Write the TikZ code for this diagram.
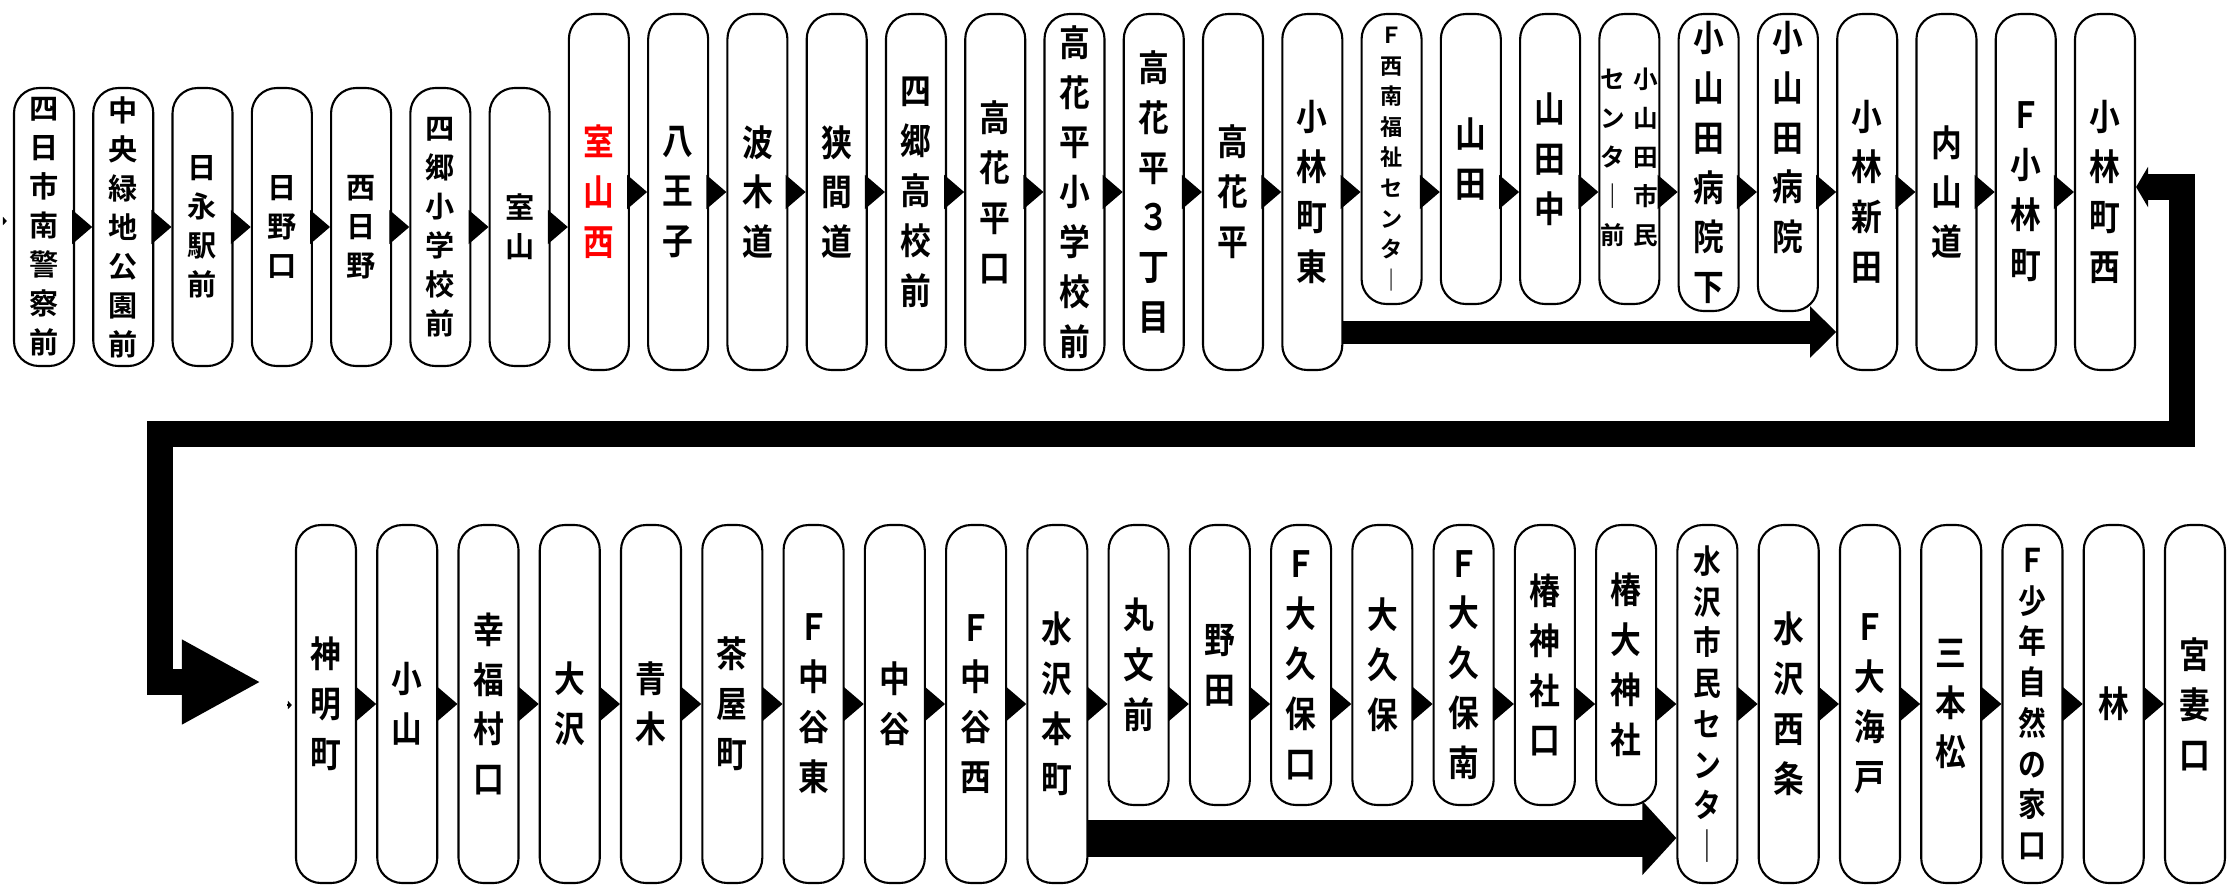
\documentclass[tikz,border=0pt]{standalone}
\usepackage{fontspec}
\setmainfont{Noto Sans CJK JP}[BoldFont={Noto Sans CJK JP Bold}]
\newfontfamily\narrowjp{Noto Sans CJK JP}[BoldFont={Noto Sans CJK JP Bold}, FakeStretch=0.85]
\usetikzlibrary{arrows.meta}
\tikzstyle{stop} = [rectangle, rounded corners=2.5mm, draw=black, fill=white, line width=0.6pt, minimum width=0.6cm, inner sep=0pt, align=center, font=\narrowjp\bfseries\fontsize{10.3}{14.2}\selectfont]
\tikzstyle{lowstop} = [stop, minimum height=2.78cm, font=\bfseries\fontsize{8.3}{11.1}\selectfont]
\tikzstyle{tallstop} = [stop, minimum height=3.56cm]
\tikzstyle{midstop} = [stop, minimum height=2.90cm]
\tikzstyle{midstopb} = [stop, minimum height=2.97cm]
\tikzstyle{longstop} = [stop, minimum height=3.58cm]
\tikzstyle{shortstop} = [stop, minimum height=2.80cm]
\tikzstyle{smalltext} = [font=\bfseries\fontsize{6.3}{8.7}\selectfont]
\tikzstyle{packedtext} = [font=\narrowjp\bfseries\fontsize{9.3}{11.6}\selectfont]
\tikzstyle{arrow} = [-{Triangle[length=2mm,width=3.4mm]}]
\tikzstyle{stub} = [-{Triangle[length=0.4mm,width=0.8mm]}]
\tikzstyle{bypass} = [line width=2.3mm, -{Triangle[length=2.6mm,width=5mm]}]
\tikzstyle{bypasswide} = [line width=3.7mm, -{Triangle[length=3.4mm,width=7.2mm]}]
\tikzstyle{wraparound} = [line width=2.6mm, line join=miter, {Triangle[length=1.2mm,width=4mm]}-{Triangle[length=7.9mm,width=7.9mm]}]

\begin{document}
\begin{tikzpicture}[node distance=0.7927cm]

\useasboundingbox (0,0) rectangle (22.33,-8.85);

% upper row
\node (t1) [lowstop] at (0.44,-2.27) {四\\日\\市\\南\\警\\察\\前};
\node (t2) [lowstop, right of=t1] {中\\央\\緑\\地\\公\\園\\前};
\node (t3) [lowstop, right of=t2] {日\\永\\駅\\前};
\node (t4) [lowstop, right of=t3] {日\\野\\口};
\node (t5) [lowstop, right of=t4] {西\\日\\野};
\node (t6) [lowstop, right of=t5] {四\\郷\\小\\学\\校\\前};
\node (t7) [lowstop, right of=t6] {室\\山};
\node (t8) [tallstop, right of=t7, yshift=0.35cm, text=red] {室\\山\\西};
\node (t9) [tallstop, right of=t8] {八\\王\\子};
\node (t10) [tallstop, right of=t9] {波\\木\\道};
\node (t11) [tallstop, right of=t10] {狭\\間\\道};
\node (t12) [tallstop, right of=t11] {四\\郷\\高\\校\\前};
\node (t13) [tallstop, right of=t12] {高\\花\\平\\口};
\node (t14) [tallstop, right of=t13] {高\\花\\平\\小\\学\\校\\前};
\node (t15) [tallstop, right of=t14] {高\\花\\平\\３\\丁\\目};
\node (t16) [tallstop, right of=t15] {高\\花\\平};
\node (t17) [tallstop, right of=t16] {小\\林\\町\\東};
\node (t18) [midstop, smalltext, right of=t17, yshift=0.33cm] {Ｆ\\西\\南\\福\\祉\\セ\\ン\\タ\\｜};
\node (t19) [midstop, right of=t18] {山\\田};
\node (t20) [midstop, right of=t19] {山\\田\\中};
\node (t21) [midstop, right of=t20, font=\bfseries\fontsize{7}{11.1}\selectfont] {\begin{tabular}{@{}c@{\hspace{0.8mm}}c@{}}セ & 小\\ ン & 山\\ タ & 田\\ ｜ & 市\\ 前 & 民\end{tabular}};
\node (t22) [midstopb, right of=t21, yshift=-0.035cm] {小\\山\\田\\病\\院\\下};
\node (t23) [midstopb, right of=t22] {小\\山\\田\\病\\院\\\phantom{院}};
\node (t24) [tallstop, right of=t23, yshift=-0.295cm] {小\\林\\新\\田};
\node (t25) [tallstop, right of=t24] {内\\山\\道};
\node (t26) [tallstop, right of=t25] {Ｆ\\小\\林\\町};
\node (t27) [tallstop, right of=t26] {小\\林\\町\\西};

% lower row
\begin{scope}[node distance=0.8126cm]
\node (b1) [longstop] at (3.26,-7.04) {神\\明\\町};
\node (b2) [longstop, right of=b1] {小\\山};
\node (b3) [longstop, right of=b2] {幸\\福\\村\\口};
\node (b4) [longstop, right of=b3] {大\\沢};
\node (b5) [longstop, right of=b4] {青\\木};
\node (b6) [longstop, right of=b5] {茶\\屋\\町};
\node (b7) [longstop, right of=b6] {Ｆ\\中\\谷\\東};
\node (b8) [longstop, right of=b7] {中\\谷};
\node (b9) [longstop, right of=b8] {Ｆ\\中\\谷\\西};
\node (b10) [longstop, right of=b9] {水\\沢\\本\\町};
\node (b11) [shortstop, right of=b10, yshift=0.39cm] {丸\\文\\前};
\node (b12) [shortstop, right of=b11] {野\\田};
\node (b13) [shortstop, right of=b12] {Ｆ\\大\\久\\保\\口};
\node (b14) [shortstop, right of=b13] {大\\久\\保};
\node (b15) [shortstop, right of=b14] {Ｆ\\大\\久\\保\\南};
\node (b16) [shortstop, right of=b15] {椿\\神\\社\\口};
\node (b17) [shortstop, right of=b16] {椿\\大\\神\\社};
\node (b18) [longstop, packedtext, right of=b17, yshift=-0.39cm] {水\\沢\\市\\民\\セ\\ン\\タ\\｜};
\node (b19) [longstop, right of=b18] {水\\沢\\西\\条};
\node (b20) [longstop, right of=b19] {Ｆ\\大\\海\\戸};
\node (b21) [longstop, right of=b20] {三\\本\\松};
\node (b22) [longstop, packedtext, right of=b21] {Ｆ\\少\\年\\自\\然\\の\\家\\口};
\node (b23) [longstop, right of=b22] {林};
\node (b24) [longstop, right of=b23] {宮\\妻\\口};
\end{scope}

\coordinate (in1) at (0.04,-2.21);
\coordinate (in2) at (2.87,-7.05);
\coordinate (turnR) at (21.82,-4.34);
\coordinate (turnL) at (1.60,-4.34);

\draw [stub, shorten >=0.06cm] (in1) -- (in1 -| t1.west);
\draw [arrow] (t1.east) -- (t2.west);
\draw [arrow] (t2.east) -- (t3.west);
\draw [arrow] (t3.east) -- (t4.west);
\draw [arrow] (t4.east) -- (t5.west);
\draw [arrow] (t5.east) -- (t6.west);
\draw [arrow] (t6.east) -- (t7.west);
\draw [arrow] (t7.east) -- (t7.east -| t8.west);
\draw [arrow] (t8.east) -- (t9.west);
\draw [arrow] (t9.east) -- (t10.west);
\draw [arrow] (t10.east) -- (t11.west);
\draw [arrow] (t11.east) -- (t12.west);
\draw [arrow] (t12.east) -- (t13.west);
\draw [arrow] (t13.east) -- (t14.west);
\draw [arrow] (t14.east) -- (t15.west);
\draw [arrow] (t15.east) -- (t16.west);
\draw [arrow] (t16.east) -- (t17.west);
\draw [arrow] (t17.east) -- (t17.east -| t18.west);
\draw [arrow] (t18.east |- t17.east) -- (t19.west |- t17.east);
\draw [arrow] (t19.east |- t17.east) -- (t20.west |- t17.east);
\draw [arrow] (t20.east |- t17.east) -- (t21.west |- t17.east);
\draw [arrow] (t21.east |- t17.east) -- (t22.west |- t17.east);
\draw [arrow] (t22.east |- t17.east) -- (t23.west |- t17.east);
\draw [arrow] (t23.east |- t24.west) -- (t24.west);
\draw [arrow] (t24.east) -- (t25.west);
\draw [arrow] (t25.east) -- (t26.west);
\draw [arrow] (t26.east) -- (t27.west);

\draw [stub, shorten >=0.03cm] (in2) -- (in2 -| b1.west);
\draw [arrow] (b1.east) -- (b2.west);
\draw [arrow] (b2.east) -- (b3.west);
\draw [arrow] (b3.east) -- (b4.west);
\draw [arrow] (b4.east) -- (b5.west);
\draw [arrow] (b5.east) -- (b6.west);
\draw [arrow] (b6.east) -- (b7.west);
\draw [arrow] (b7.east) -- (b8.west);
\draw [arrow] (b8.east) -- (b9.west);
\draw [arrow] (b9.east) -- (b10.west);
\draw [arrow] (b10.east) -- (b10.east -| b11.west);
\draw [arrow] (b11.east |- b10.east) -- (b12.west |- b10.east);
\draw [arrow] (b12.east |- b10.east) -- (b13.west |- b10.east);
\draw [arrow] (b13.east |- b10.east) -- (b14.west |- b10.east);
\draw [arrow] (b14.east |- b10.east) -- (b15.west |- b10.east);
\draw [arrow] (b15.east |- b10.east) -- (b16.west |- b10.east);
\draw [arrow] (b16.east |- b10.east) -- (b17.west |- b10.east);
\draw [arrow] (b17.east |- b18.west) -- (b18.west);
\draw [arrow] (b18.east) -- (b19.west);
\draw [arrow] (b19.east) -- (b20.west);
\draw [arrow] (b20.east) -- (b21.west);
\draw [arrow] (b21.east) -- (b22.west);
\draw [arrow] (b22.east) -- (b23.west);
\draw [arrow] (b23.east) -- (b24.west);

% express links
\draw [bypass] ([yshift=-1.4cm]t17.east) -- ([yshift=-1.4cm]t24.west);
\draw [bypasswide] ([yshift=-1.34cm]b10.east) -- ([yshift=-1.34cm]b18.west);
\draw [wraparound, shorten >=0.34cm] ([yshift=0.05cm]t27.east) -| (turnR) -- (turnL) |- ([yshift=0.22cm]b1.west);

\end{tikzpicture}
\end{document}
